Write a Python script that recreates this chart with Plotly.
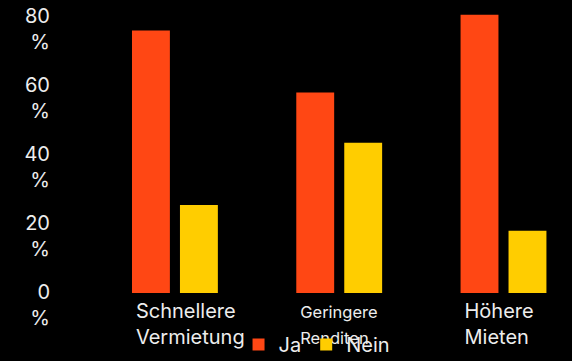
import plotly.graph_objects as go

categories = ["Schnellere<br>Vermietung", "Geringere<br>Renditen", "Höhere<br>Mieten"]
category_labels = [
    "Schnellere<br>Vermietung",
    "<span style='font-size:16.5px'>Geringere<br>Renditen</span>",
    "Höhere<br>Mieten",
]
ja_values = [76, 58, 80.5]
nein_values = [25.5, 43.5, 18]
y_tickvals = [0, 20, 40, 60, 80]
y_ticktext = ["0<br>%", "20<br>%", "40<br>%", "60<br>%", "80<br>%"]

ORANGE = "#FF4714"
YELLOW = "#FFCD00"
TEXT = "#EDEDED"
FONT = "Inter, Roboto, sans-serif"

fig = go.Figure()
fig.add_trace(go.Bar(name="Ja", x=categories, y=ja_values, marker_color=ORANGE,
                     marker_line_width=0))
fig.add_trace(go.Bar(name="Nein", x=categories, y=nein_values, marker_color=YELLOW,
                     marker_line_width=0))

fig.update_layout(
    width=572, height=361,
    margin=dict(l=55, r=0, t=0, b=68, autoexpand=False),
    paper_bgcolor="black", plot_bgcolor="black",
    font=dict(family=FONT, size=20, color=TEXT),
    barmode="group", bargap=0.416, bargroupgap=0.21,
    showlegend=True,
    legend=dict(orientation="h", x=0.355, xanchor="left",
                y=-0.109, yanchor="top",
                bgcolor="rgba(0,0,0,0)", font=dict(size=20, color=TEXT),
                itemclick=False),
    xaxis=dict(
        type="category", range=[-0.73, 2.417], automargin=False,
        tickmode="array", tickvals=categories, ticktext=category_labels,
        showgrid=False, zeroline=False, showline=False, ticks="",
        ticklabelposition="outside right", ticklabelshift=-39,
        ticklabelstandoff=4,
    ),
    yaxis=dict(
        range=[0, 84.8], automargin=False,
        tickmode="array", tickvals=y_tickvals, ticktext=y_ticktext,
        showgrid=False, zeroline=False, showline=False, ticks="",
        ticklabelstandoff=4, ticklabelshift=12, ticklabeloverflow="allow",
    ),
)

fig.write_html("out.html")
